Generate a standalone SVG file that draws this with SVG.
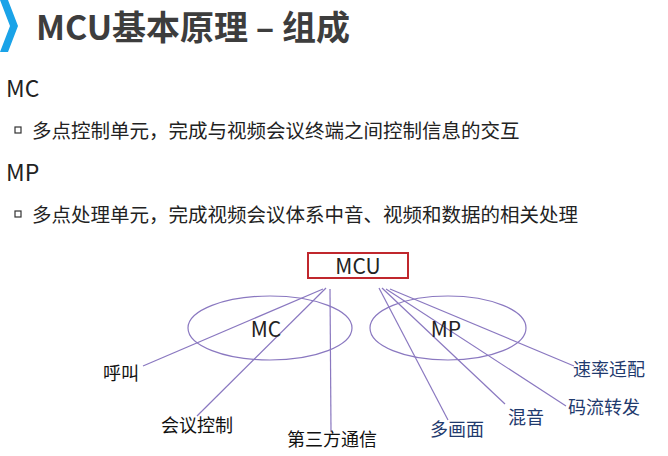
<svg xmlns="http://www.w3.org/2000/svg" width="668" height="456" viewBox="0 0 668 456">
<style>
.t{font-family:"Noto Sans CJK SC","Noto Sans",sans-serif}
.h{font-size:23px;fill:#222}
.b{font-size:19.5px;fill:#222}
.l{font-size:18px;fill:#111}
.r{font-size:18px;fill:#1f3a6e}
.ln{stroke:#8a78c0;stroke-width:1.2;fill:none}
</style>
<rect width="668" height="456" fill="#fff"/>
<g id="title">
<polygon points="0,0 8,0 18,26 8,52 0,52 10,26" fill="#1aa3e8"/>
<text class="t" x="36" y="40" font-size="34" font-weight="bold" fill="#3d3d3d">MCU基本原理 – 组成</text>
</g>
<g id="text">
<text class="t h" x="6" y="97">MC</text>
<rect x="15" y="127" width="6" height="6" fill="none" stroke="#333" stroke-width="1.2"/>
<text class="t b" x="32" y="138">多点控制单元，完成与视频会议终端之间控制信息的交互</text>
<text class="t h" x="6" y="181">MP</text>
<rect x="15" y="211" width="6" height="6" fill="none" stroke="#333" stroke-width="1.2"/>
<text class="t b" x="32" y="222">多点处理单元，完成视频会议体系中音、视频和数据的相关处理</text>
</g>
<g id="connectors">
<line class="ln" x1="323" y1="289" x2="143" y2="366"/>
<line class="ln" x1="326" y1="288" x2="197" y2="416"/>
<line class="ln" x1="330" y1="289" x2="331" y2="432"/>
<line class="ln" x1="379" y1="288" x2="448" y2="420"/>
<line class="ln" x1="382" y1="288" x2="505" y2="404"/>
<line class="ln" x1="386" y1="289" x2="566" y2="406"/>
<line class="ln" x1="390" y1="289" x2="574" y2="366"/>
</g>
<g id="MCU">
<rect x="308" y="253" width="100" height="25" fill="#fff" stroke="#c0272d" stroke-width="2"/>
<text class="t" x="358" y="274" font-size="21" fill="#222" text-anchor="middle">MCU</text>
</g>
<g id="MC">
<ellipse cx="270" cy="328" rx="82" ry="32" class="ln"/>
<text class="t" x="266" y="337" font-size="21" fill="#222" text-anchor="middle">MC</text>
</g>
<g id="MP">
<ellipse cx="448" cy="328" rx="78" ry="32" class="ln"/>
<text class="t" x="446" y="337" font-size="21" fill="#222" text-anchor="middle">MP</text>
</g>
<g id="labels">
<text class="t l" x="103" y="380">呼叫</text>
<text class="t l" x="161" y="432">会议控制</text>
<text class="t l" x="287" y="446">第三方通信</text>
<text class="t r" x="430" y="436">多画面</text>
<text class="t r" x="508" y="424">混音</text>
<text class="t r" x="568" y="414">码流转发</text>
<text class="t r" x="573" y="376">速率适配</text>
</g>
</svg>
